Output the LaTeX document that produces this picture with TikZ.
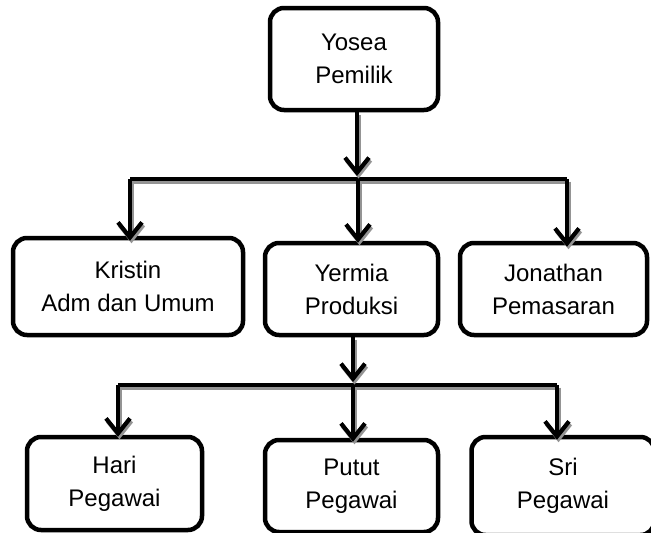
\documentclass[tikz,border=0pt]{standalone}
\usepackage{fontspec}
\setmainfont{Liberation Sans}
\usetikzlibrary{arrows.meta}
\begin{document}
\begin{tikzpicture}[x=1pt,y=-1pt,
  box/.style={draw=black, line width=4.5pt, rounded corners=14pt, fill=white,
    align=center, inner sep=0pt, font=\fontsize{24}{33}\selectfont},
  shadowed/.style={preaction={draw=black!42, line width=4pt, transform canvas={xshift=1.5pt,yshift=-2.5pt}}},
  conn/.style={draw=black, line width=4.2pt, shadowed},
  arr/.style={conn, -{Straight Barb[length=15pt,width=24pt]}}]
\clip (0,0) rectangle (651,533);
\fill[white] (0,0) rectangle (651,533);
% boxes
\node[box, minimum width=168pt, minimum height=102pt] (yosea) at (354,59) {Yosea\\Pemilik};
\node[box, minimum width=230pt, minimum height=97pt] (kristin) at (128,286.5) {Kristin\\Adm dan Umum};
\node[box, minimum width=173pt, minimum height=92pt] (yermia) at (351.5,289) {Yermia\\Produksi};
\node[box, minimum width=187pt, minimum height=92pt] (jonathan) at (553.5,289) {Jonathan\\Pemasaran};
\node[box, minimum width=175pt, minimum height=93pt] (hari) at (114.5,483.5) {Hari\\Pegawai};
\node[box, minimum width=173pt, minimum height=92pt] (putut) at (351.5,486) {Putut\\Pegawai};
\node[box, minimum width=183pt, minimum height=98pt] (sri) at (563,486) {Sri\\Pegawai};
% bus coordinates
\coordinate (b1) at (357,179);
\coordinate (k1) at (130,179);
\coordinate (y1) at (358,179);
\coordinate (j1) at (567,179);
\coordinate (b2) at (353,385);
\coordinate (h2) at (118,385);
\coordinate (p2) at (353,385);
\coordinate (s2) at (557,385);
% connectors level 1
\draw[conn] (k1) -- (j1);
\draw[arr] (b1 |- yosea.south) -- ([yshift=3pt]b1);
\draw[arr] (k1) -- ([yshift=-5pt]k1 |- kristin.north);
\draw[arr] (y1) -- ([yshift=-2pt]y1 |- yermia.north);
\draw[arr] (j1) -- ([yshift=-6pt]j1 |- jonathan.north);
% connectors level 2
\draw[conn] (h2) -- (s2);
\draw[arr] (b2 |- yermia.south) -- ([yshift=3pt]b2);
\draw[arr] (h2) -- ([yshift=-2pt]h2 |- hari.north);
\draw[arr] (p2) -- ([yshift=-4pt]p2 |- putut.north);
\draw[arr] (s2) -- ([yshift=-5pt]s2 |- sri.north);
\end{tikzpicture}
\end{document}
